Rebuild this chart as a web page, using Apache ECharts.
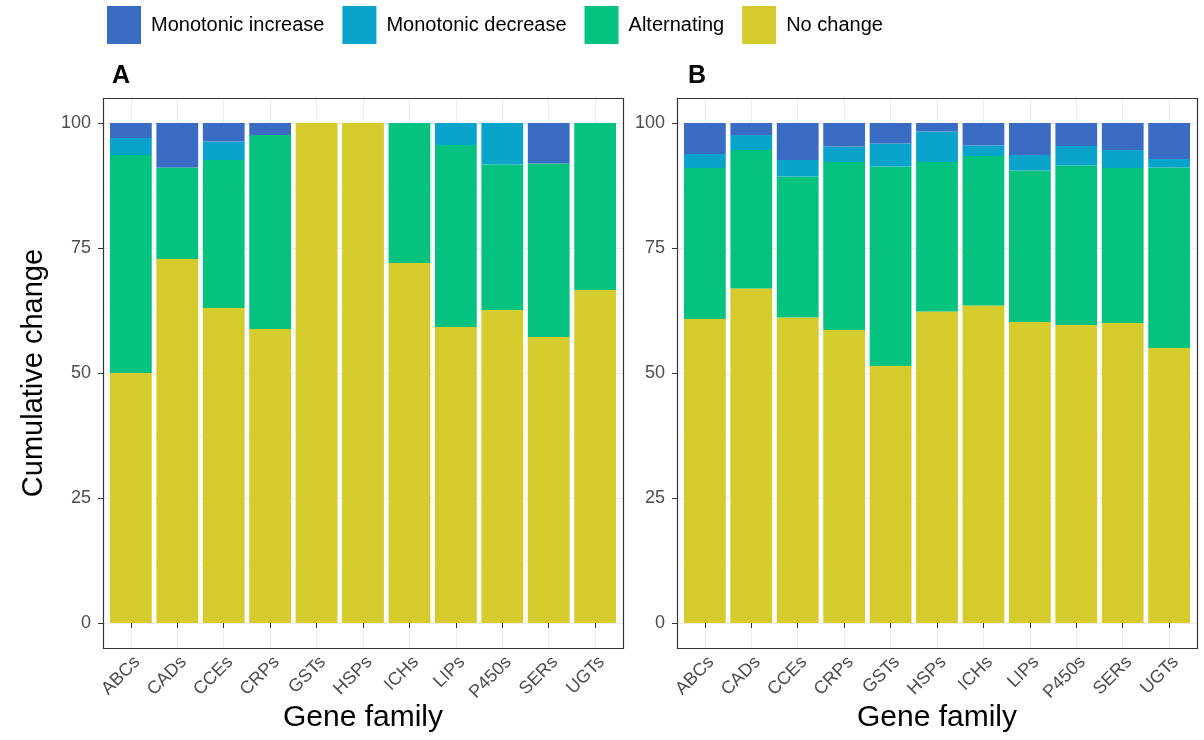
<!DOCTYPE html>
<html>
<head>
<meta charset="utf-8">
<title>Cumulative change by gene family</title>
<script src="https://cdn.jsdelivr.net/npm/echarts@6/dist/echarts.min.js"></script>
<style>
  html, body { margin: 0; padding: 0; background: #ffffff; }
  #chart { width: 1204px; height: 740px; }
</style>
</head>
<body>
<div id="chart"></div>
<script>
// Gene families on the x axis of both panels
const categories = ['ABCs', 'CADs', 'CCEs', 'CRPs', 'GSTs', 'HSPs', 'ICHs', 'LIPs', 'P450s', 'SERs', 'UGTs'];
const yTicks = [0, 25, 50, 75, 100];

// Panel A: share of each change pattern (stack bottom → top)
const noChangeA    = [50.0, 72.8, 63.0, 58.8, 100, 100, 72.0, 59.2, 62.6, 57.2, 66.6];
const alternatingA = [43.6, 18.3, 29.6, 38.8, 0, 0, 28.0, 36.4, 29.1, 34.7, 33.4];
const decreaseA    = [3.4, 0, 3.7, 0, 0, 0, 0, 4.4, 8.3, 0, 0];
const increaseA    = [3.0, 8.9, 3.7, 2.4, 0, 0, 0, 0, 0, 8.1, 0];

// Panel B
const noChangeB    = [60.8, 66.9, 61.1, 58.6, 51.4, 62.3, 63.5, 60.2, 59.6, 60.0, 55.0];
const alternatingB = [30.2, 27.7, 28.2, 33.6, 39.9, 29.9, 29.9, 30.3, 31.9, 31.0, 36.1];
const decreaseB    = [2.8, 3.0, 3.3, 3.1, 4.6, 6.1, 2.1, 3.1, 3.9, 3.6, 1.7];
const increaseB    = [6.2, 2.4, 7.4, 4.7, 4.1, 1.7, 4.5, 6.4, 4.6, 5.4, 7.2];

const seriesNames = ['Monotonic increase', 'Monotonic decrease', 'Alternating', 'No change'];
const colors = {
  'Monotonic increase': '#3B6CC3',
  'Monotonic decrease': '#0AA3CB',
  'Alternating': '#05C27F',
  'No change': '#D5CB2C'
};

const FONT = '"Liberation Sans", Arial, Helvetica, sans-serif';

// Panel geometry: frame box plus a discrete x expansion of 0.6 band on each side
const panelW = 520, panelTop = 98, panelH = 550;
const panelLefts = [103, 677];
const unit = panelW / (categories.length - 1 + 1.2);
const bandInset = 0.1 * unit;
// y range -5..105 inside the frame; 0..100 sub-grid holds the labelled axis
const pxPerUnit = panelH / 110;

const grids = [];
const xAxes = [];
const yAxes = [];
const series = [];
const graphics = [];

panelLefts.forEach((left, p) => {
  // grid for the labelled y axis (0..100)
  grids.push({
    left: left, top: panelTop + 5 * pxPerUnit,
    width: panelW, height: 100 * pxPerUnit,
    containLabel: false, outerBoundsMode: 'none'
  });
  // grid for the bars (full frame height, inset to the bar band)
  grids.push({
    left: left + bandInset, top: panelTop,
    width: panelW - 2 * bandInset, height: panelH,
    containLabel: false, outerBoundsMode: 'none'
  });
  const gY = p * 2, gB = p * 2 + 1;

  xAxes.push({ gridIndex: gY, type: 'category', data: categories, show: false });
  xAxes.push({
    gridIndex: gB, type: 'category', data: categories,
    boundaryGap: true,
    axisLine: { show: false },
    axisTick: { show: true, alignWithLabel: true, length: 5, lineStyle: { color: '#333333', width: 1 } },
    splitLine: { show: true, alignWithLabel: true, lineStyle: { color: '#EBEBEB', width: 1 } },
    axisLabel: {
      rotate: 45, margin: 5, interval: 0,
      align: 'right', verticalAlign: 'top',
      color: '#4D4D4D', fontSize: 18, fontFamily: FONT
    },
    name: 'Gene family', nameLocation: 'middle', nameGap: 55,
    nameMoveOverlap: false,
    nameTextStyle: { color: '#000000', fontSize: 30, fontFamily: FONT }
  });

  yAxes.push({
    gridIndex: gY, type: 'value', min: 0, max: 100, interval: 25,
    axisLine: { show: false },
    axisTick: { show: true, length: 5, lineStyle: { color: '#333333', width: 1 } },
    axisLabel: {
      margin: 12, color: '#4D4D4D', fontSize: 18, fontFamily: FONT,
      customValues: yTicks
    },
    splitLine: { show: true, lineStyle: { color: '#EBEBEB', width: 1 } },
    minorTick: { show: false, splitNumber: 2 },
    minorSplitLine: { show: true, lineStyle: { color: '#F4F4F4', width: 0.6 } },
    name: p === 0 ? 'Cumulative change' : '',
    nameLocation: 'middle', nameGap: 55,
    nameTextStyle: { color: '#000000', fontSize: 29, fontFamily: FONT }
  });
  yAxes.push({ gridIndex: gB, type: 'value', min: -5, max: 105, show: false });

  const stacks = p === 0
    ? [noChangeA, alternatingA, decreaseA, increaseA]
    : [noChangeB, alternatingB, decreaseB, increaseB];
  const order = ['No change', 'Alternating', 'Monotonic decrease', 'Monotonic increase'];
  order.forEach((name, k) => {
    series.push({
      name: name, type: 'bar', stack: 'panel' + p,
      xAxisIndex: gB, yAxisIndex: gB,
      barWidth: '90%',
      itemStyle: { color: colors[name] },
      emphasis: { disabled: true },
      data: stacks[k]
    });
  });

  // panel border
  graphics.push({
    type: 'rect', silent: true, z: 10,
    shape: { x: left + 0.5, y: panelTop + 0.5, width: panelW, height: panelH },
    style: { fill: 'none', stroke: '#333333', lineWidth: 1.2 }
  });
  // panel tag
  graphics.push({
    type: 'text', silent: true, z: 10,
    left: left + (p === 0 ? 9 : 11), top: 64,
    style: { text: p === 0 ? 'A' : 'B', fill: '#000000', font: 'bold 25px ' + FONT }
  });
});

const chart = echarts.init(document.getElementById('chart'), null, { renderer: 'canvas' });
chart.setOption({
  animation: false,
  backgroundColor: '#ffffff',
  legend: {
    data: seriesNames,
    left: 107, top: 6,
    itemWidth: 34, itemHeight: 38, itemGap: 18,
    icon: 'rect', selectedMode: false,
    padding: 0,
    textStyle: { fontSize: 20, color: '#000000', fontFamily: FONT, padding: [0, 0, 0, 5] }
  },
  grid: grids,
  xAxis: xAxes,
  yAxis: yAxes,
  series: series,
  graphic: graphics
});
</script>
</body>
</html>
